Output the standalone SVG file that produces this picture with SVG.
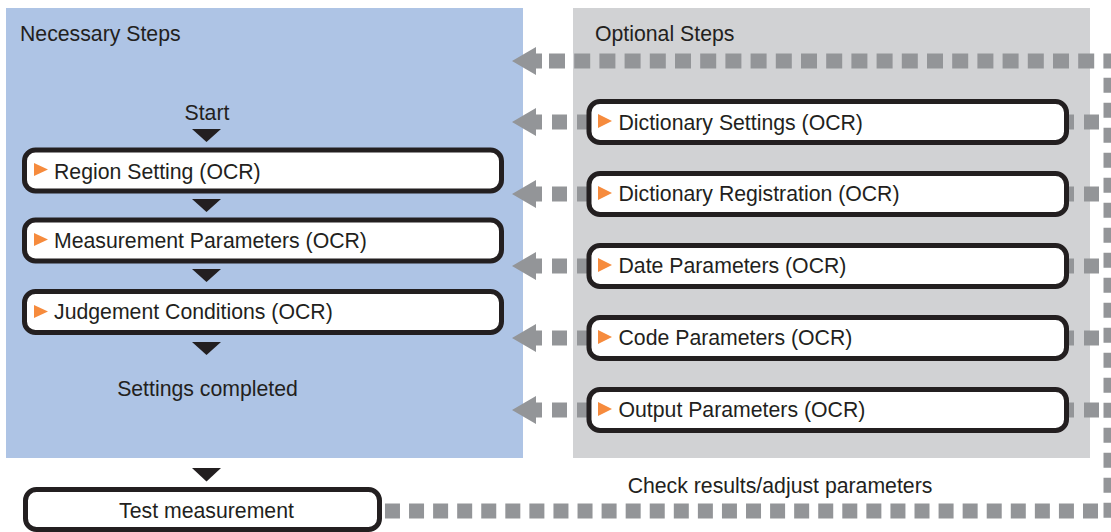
<svg xmlns="http://www.w3.org/2000/svg" width="1111" height="532" viewBox="0 0 1111 532">
<style>
text{font-family:"Liberation Sans",Arial,Helvetica,sans-serif;font-size:21.25px;fill:#231f20}
.mid{text-anchor:middle}
.box{fill:#fff;stroke:#231f20;stroke-width:5}
.tri{fill:#231f20}
.ora{fill:#f68b3d}
.dash{fill:none;stroke:#939598;stroke-width:15}
.ah{fill:#939598}
</style>
<defs>
<path id="arrowhead" d="M0,0 L24,-14 L24,-7.5 L30,-7.5 L30,7.5 L24,7.5 L24,14 Z"/>
</defs>
<rect id="necessary-panel" x="6" y="8" width="517" height="450" fill="#aec4e5"/>
<rect id="optional-panel" x="573" y="8" width="517" height="450" fill="#d1d2d4"/>
<text x="20" y="41">Necessary Steps</text>
<text x="595" y="41">Optional Steps</text>

<g id="connectors">
  <line class="dash" x1="549" y1="61" x2="1119" y2="61" stroke-dasharray="16 9.2"/>
  <line class="dash" x1="1111" y1="77.7" x2="1111" y2="518" stroke-dasharray="15 10"/>
  <line class="dash" x1="1098" y1="511" x2="383" y2="511" stroke-dasharray="15 9.07"/>
  <use href="#arrowhead" class="ah" x="512" y="61"/>
  <g>
    <line class="dash" x1="552" y1="122" x2="600" y2="122" stroke-dasharray="15 10"/>
    <line class="dash" x1="1099" y1="122" x2="1055" y2="122" stroke-dasharray="15 10"/>
    <use href="#arrowhead" class="ah" x="512" y="122"/>
  </g>
  <g>
    <line class="dash" x1="552" y1="194" x2="600" y2="194" stroke-dasharray="15 10"/>
    <line class="dash" x1="1099" y1="194" x2="1055" y2="194" stroke-dasharray="15 10"/>
    <use href="#arrowhead" class="ah" x="512" y="194"/>
  </g>
  <g>
    <line class="dash" x1="552" y1="266" x2="600" y2="266" stroke-dasharray="15 10"/>
    <line class="dash" x1="1099" y1="266" x2="1055" y2="266" stroke-dasharray="15 10"/>
    <use href="#arrowhead" class="ah" x="512" y="266"/>
  </g>
  <g>
    <line class="dash" x1="552" y1="338" x2="600" y2="338" stroke-dasharray="15 10"/>
    <line class="dash" x1="1099" y1="338" x2="1055" y2="338" stroke-dasharray="15 10"/>
    <use href="#arrowhead" class="ah" x="512" y="338"/>
  </g>
  <g>
    <line class="dash" x1="552" y1="410" x2="600" y2="410" stroke-dasharray="15 10"/>
    <line class="dash" x1="1099" y1="410" x2="1055" y2="410" stroke-dasharray="15 10"/>
    <use href="#arrowhead" class="ah" x="512" y="410"/>
  </g>
  <polygon class="tri" points="192,129 221,129 206.5,142"/>
  <polygon class="tri" points="192,199 221,199 206.5,212"/>
  <polygon class="tri" points="192,269 221,269 206.5,282"/>
  <polygon class="tri" points="192,342 221,342 206.5,355"/>
  <polygon class="tri" points="192,468 221,468 206.5,481.5"/>
</g>

<g id="start"><text class="mid" x="207" y="120">Start</text></g>

<g id="region-setting">
  <rect class="box" x="24.5" y="150" width="477" height="41" rx="11"/>
  <polygon class="ora" points="34,163 48,169.5 34,176"/>
  <text x="54" y="179">Region Setting (OCR)</text>
</g>
<g id="measurement-parameters">
  <rect class="box" x="24.5" y="220" width="477" height="41" rx="11"/>
  <polygon class="ora" points="34,233 48,239.5 34,246"/>
  <text x="54" y="248">Measurement Parameters (OCR)</text>
</g>
<g id="judgement-conditions">
  <rect class="box" x="24.5" y="291.5" width="477" height="41" rx="11"/>
  <polygon class="ora" points="34,305 48,311.5 34,318"/>
  <text x="54" y="319">Judgement Conditions (OCR)</text>
</g>
<g id="settings-completed"><text class="mid" x="207.5" y="396">Settings completed</text></g>

<g id="test-measurement">
  <rect class="box" x="25.5" y="489.5" width="354" height="40" rx="11"/>
  <text class="mid" x="206.5" y="517.5">Test measurement</text>
</g>
<g id="check-label"><text class="mid" x="780" y="493">Check results/adjust parameters</text></g>

<g id="dictionary-settings">
  <rect class="box" x="589" y="101.5" width="477.5" height="41" rx="11"/>
  <polygon class="ora" points="598,114 612,121 598,128"/>
  <text x="618.5" y="129.5">Dictionary Settings (OCR)</text>
</g>
<g id="dictionary-registration">
  <rect class="box" x="589" y="173.5" width="477.5" height="41" rx="11"/>
  <polygon class="ora" points="598,186 612,193 598,200"/>
  <text x="618.5" y="200.5">Dictionary Registration (OCR)</text>
</g>
<g id="date-parameters">
  <rect class="box" x="589" y="245.5" width="477.5" height="41" rx="11"/>
  <polygon class="ora" points="598,258 612,265 598,272"/>
  <text x="618.5" y="273">Date Parameters (OCR)</text>
</g>
<g id="code-parameters">
  <rect class="box" x="589" y="317.5" width="477.5" height="41" rx="11"/>
  <polygon class="ora" points="598,330 612,337 598,344"/>
  <text x="618.5" y="345">Code Parameters (OCR)</text>
</g>
<g id="output-parameters">
  <rect class="box" x="589" y="389.5" width="477.5" height="41" rx="11"/>
  <polygon class="ora" points="598,402 612,409 598,416"/>
  <text x="618.5" y="417">Output Parameters (OCR)</text>
</g>
</svg>
